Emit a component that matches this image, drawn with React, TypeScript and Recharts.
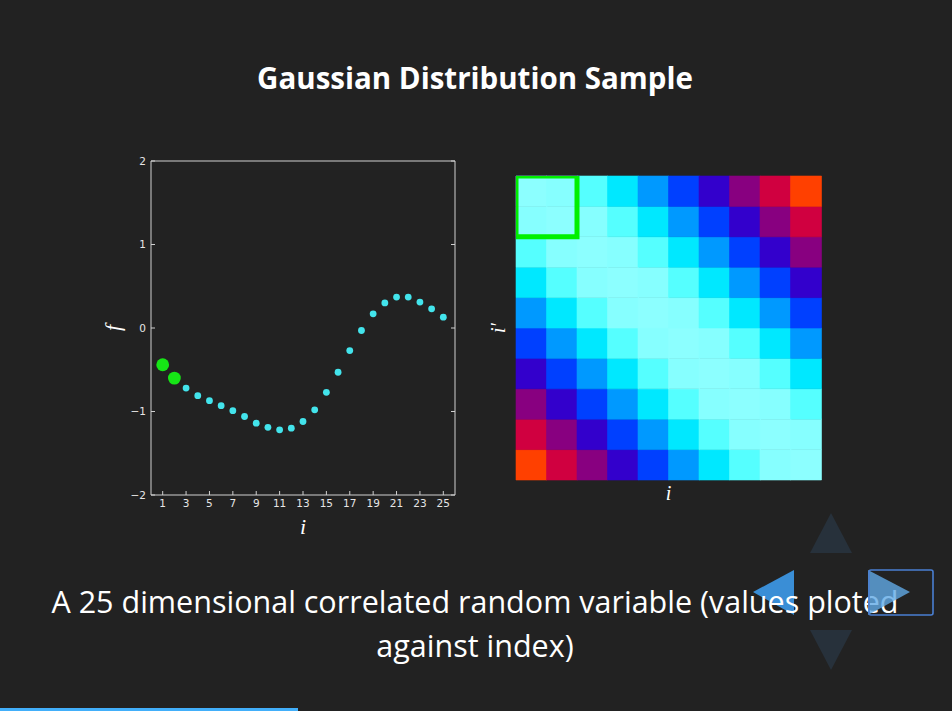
import React from "react";
import { Bar, BarChart, Cell, ReferenceArea, Scatter, ScatterChart, XAxis, YAxis } from "recharts";

// sample f(i)
const sampleIndex = [1, 2, 3, 4, 5, 6, 7, 8, 9, 10, 11, 12, 13, 14, 15, 16, 17, 18, 19, 20, 21, 22, 23, 24, 25];
const sampleValues = [
  -0.44, -0.6, -0.72, -0.81, -0.87, -0.93, -0.99, -1.06, -1.14, -1.19, -1.22, -1.2, -1.12, -0.98, -0.77,
  -0.53, -0.27, -0.03, 0.17, 0.3, 0.37, 0.37, 0.31, 0.23, 0.13
];
const highlighted = [1, 2];
const xTicks = [1, 3, 5, 7, 9, 11, 13, 15, 17, 19, 21, 23, 25];
const yTicks = [-2, -1, 0, 1, 2];

// covariance matrix (rows top to bottom), right panel
const heatmapColumns = [1, 2, 3, 4, 5, 6, 7, 8, 9, 10];
const covariance = [
  [1.0, 0.96, 0.85, 0.7, 0.52, 0.35, 0.2, 0.1, 0.04, 0.01],
  [0.96, 1.0, 0.96, 0.85, 0.7, 0.52, 0.35, 0.2, 0.1, 0.04],
  [0.85, 0.96, 1.0, 0.96, 0.85, 0.7, 0.52, 0.35, 0.2, 0.1],
  [0.7, 0.85, 0.96, 1.0, 0.96, 0.85, 0.7, 0.52, 0.35, 0.2],
  [0.52, 0.7, 0.85, 0.96, 1.0, 0.96, 0.85, 0.7, 0.52, 0.35],
  [0.35, 0.52, 0.7, 0.85, 0.96, 1.0, 0.96, 0.85, 0.7, 0.52],
  [0.2, 0.35, 0.52, 0.7, 0.85, 0.96, 1.0, 0.96, 0.85, 0.7],
  [0.1, 0.2, 0.35, 0.52, 0.7, 0.85, 0.96, 1.0, 0.96, 0.85],
  [0.04, 0.1, 0.2, 0.35, 0.52, 0.7, 0.85, 0.96, 1.0, 0.96],
  [0.01, 0.04, 0.1, 0.2, 0.35, 0.52, 0.7, 0.85, 0.96, 1.0]
];
// highlighted 2x2 block (top-left)
const blockCols = [1, 2];
const blockRows = [8, 10];

const colorStops: [number, string][] = [
  [0.01, "#ff4000"],
  [0.04, "#d00040"],
  [0.1, "#880080"],
  [0.2, "#3300cc"],
  [0.35, "#0040ff"],
  [0.52, "#0099ff"],
  [0.7, "#00e8ff"],
  [0.85, "#55ffff"],
  [0.96, "#86ffff"],
  [1.0, "#8cffff"]
];

function hexToRgb(h: string) {
  return [1, 3, 5].map((k) => parseInt(h.slice(k, k + 2), 16));
}

function colorFor(v: number) {
  if (v <= colorStops[0][0]) return colorStops[0][1];
  for (let k = 1; k < colorStops.length; k++) {
    const [v1, c1] = colorStops[k];
    if (v <= v1) {
      const [v0, c0] = colorStops[k - 1];
      const t = (v - v0) / (v1 - v0);
      const a = hexToRgb(c0);
      const b = hexToRgb(c1);
      return `rgb(${a.map((x, n) => Math.round(x + (b[n] - x) * t)).join(",")})`;
    }
  }
  return colorStops[colorStops.length - 1][1];
}

const points = sampleIndex.map((i, k) => ({ i, f: sampleValues[k] }));
const greenPoints = points.filter((p) => highlighted.includes(p.i));
const cyanPoints = points.filter((p) => !highlighted.includes(p.i));

const gridRows = heatmapColumns.map((col) => {
  const row: Record<string, number> = { col };
  covariance.forEach((_, s) => {
    row[`s${s}`] = 1;
  });
  return row;
});

const frame = "#d0d0d0";
const tickFont = { fill: "#e6e6e6", fontSize: 10.5, fontFamily: "DejaVu Sans" };
const mathFont = { fill: "#ffffff", fontSize: 22, fontFamily: "Liberation Serif", fontStyle: "italic" as const };
const minus = (v: number) => (v < 0 ? `\u2212${Math.abs(v)}` : `${v}`);

const dot = (r: number, fill: string) => (props: any) => <circle cx={props.cx} cy={props.cy} r={r} fill={fill} />;

function SampleChart() {
  return (
    <ScatterChart width={380} height={400} margin={{ top: 6, right: 10, bottom: 10, left: 21 }}>
      <XAxis
        type="number"
        dataKey="i"
        domain={[0, 26]}
        ticks={xTicks}
        allowDataOverflow
        height={45}
        stroke={frame}
        tickSize={-4}
        tickMargin={9}
        tick={tickFont}
        label={{
          content: ({ viewBox }: any) => (
            <text x={viewBox.x + viewBox.width / 2} y={viewBox.y + 39} textAnchor="middle" {...mathFont}>
              i
            </text>
          )
        }}
      />
      <XAxis
        xAxisId="top"
        orientation="top"
        type="number"
        domain={[0, 26]}
        ticks={xTicks}
        allowDataOverflow
        height={5}
        stroke={frame}
        tickSize={-4}
        tickFormatter={() => ""}
      />
      <YAxis
        type="number"
        dataKey="f"
        domain={[-2, 2]}
        ticks={yTicks}
        allowDataOverflow
        width={40}
        stroke={frame}
        tickSize={-4}
        tickMargin={9}
        tick={tickFont}
        tickFormatter={minus}
        label={{
          content: ({ viewBox }: any) => {
            const x = viewBox.x + 9;
            const y = viewBox.y + viewBox.height / 2;
            return (
              <text x={x} y={y} textAnchor="middle" transform={`rotate(-90 ${x} ${y})`} {...mathFont}>
                f
              </text>
            );
          }
        }}
      />
      <YAxis
        yAxisId="right"
        orientation="right"
        type="number"
        domain={[-2, 2]}
        ticks={yTicks}
        allowDataOverflow
        width={5}
        stroke={frame}
        tickSize={-4}
        tickFormatter={() => ""}
      />
      <Scatter data={cyanPoints} isAnimationActive={false} shape={dot(3.4, "#43e4ec")} />
      <Scatter data={greenPoints} isAnimationActive={false} shape={dot(6.4, "#16e516")} />
    </ScatterChart>
  );
}

function CovarianceChart() {
  return (
    <BarChart
      width={360}
      height={345}
      data={gridRows}
      barCategoryGap={0}
      barGap={0}
      margin={{ top: 16, right: 19, bottom: 0, left: 0 }}
    >
      <XAxis
        dataKey="col"
        height={25}
        axisLine={false}
        tickLine={false}
        tick={false}
        label={{
          content: ({ viewBox }: any) => (
            <text x={viewBox.x + viewBox.width / 2} y={viewBox.y + 20} textAnchor="middle" {...mathFont} fontSize={20}>
              i
            </text>
          )
        }}
      />
      <YAxis
        type="number"
        domain={[0, 10]}
        width={36}
        axisLine={false}
        tickLine={false}
        tick={false}
        label={{
          content: ({ viewBox }: any) => {
            const x = viewBox.x + 25;
            const y = viewBox.y + viewBox.height / 2;
            return (
              <text x={x} y={y} textAnchor="middle" transform={`rotate(-90 ${x} ${y})`} {...mathFont} fontSize={20}>
                i′
              </text>
            );
          }
        }}
      />
      {covariance.map((_, s) => (
        <Bar key={s} dataKey={`s${s}`} stackId="grid" isAnimationActive={false}>
          {heatmapColumns.map((col, ci) => {
            const fill = colorFor(covariance[covariance.length - 1 - s][ci]);
            return <Cell key={col} fill={fill} stroke={fill} strokeWidth={0.6} />;
          })}
        </Bar>
      ))}
      <ReferenceArea
        x1={blockCols[0]}
        x2={blockCols[1]}
        y1={blockRows[0]}
        y2={blockRows[1]}
        fill="none"
        fillOpacity={0}
        stroke="#00f000"
        strokeWidth={5}
        ifOverflow="hidden"
        {...({ zIndex: 900 } as any)}
      />
    </BarChart>
  );
}

export default function App() {
  return (
    <div
      style={{
        position: "absolute",
        left: 0,
        top: 0,
        width: 952,
        height: 711,
        background: "#222222",
        overflow: "hidden",
        fontFamily: "'Open Sans', Lato, sans-serif",
        fontVariantLigatures: "none",
        color: "#ffffff"
      }}
    >
      {/* slide controls sit partly behind the caption */}
      <svg width={952} height={711} style={{ position: "absolute", left: 0, top: 0, pointerEvents: "none" }}>
        <polygon points="831,513 852,553 810,553" fill="#27313b" />
        <polygon points="831,670 852,630 810,630" fill="#27313b" />
        <polygon points="753,592 794,570 794,615" fill="#3a8ed6" />
        <rect x={0} y={708} width={298} height={3} fill="#42affa" />
      </svg>
      <div style={{ position: "absolute", left: 0, width: 950, top: 58, textAlign: "center", fontSize: 29.5, fontWeight: 700, lineHeight: "40px" }}>
        Gaussian Distribution Sample
      </div>
      <div style={{ position: "absolute", left: 90, top: 150 }}>
        <SampleChart />
      </div>
      <div style={{ position: "absolute", left: 480, top: 160 }}>
        <CovarianceChart />
      </div>
      <div style={{ position: "absolute", left: 0, width: 950, top: 579, textAlign: "center", fontSize: 30.5, lineHeight: "44px" }}>
        <div>A 25 dimensional correlated random variable (values ploted</div>
        <div>against index)</div>
      </div>
      <svg width={952} height={711} style={{ position: "absolute", left: 0, top: 0, pointerEvents: "none" }}>
        <polygon points="910,592 868,570 868,615" fill="#62aae6" opacity={0.8} />
        <rect x={869} y={570} width={64} height={45} rx={2} fill="none" stroke="#4a7fd2" strokeWidth={1.6} />
      </svg>
    </div>
  );
}
